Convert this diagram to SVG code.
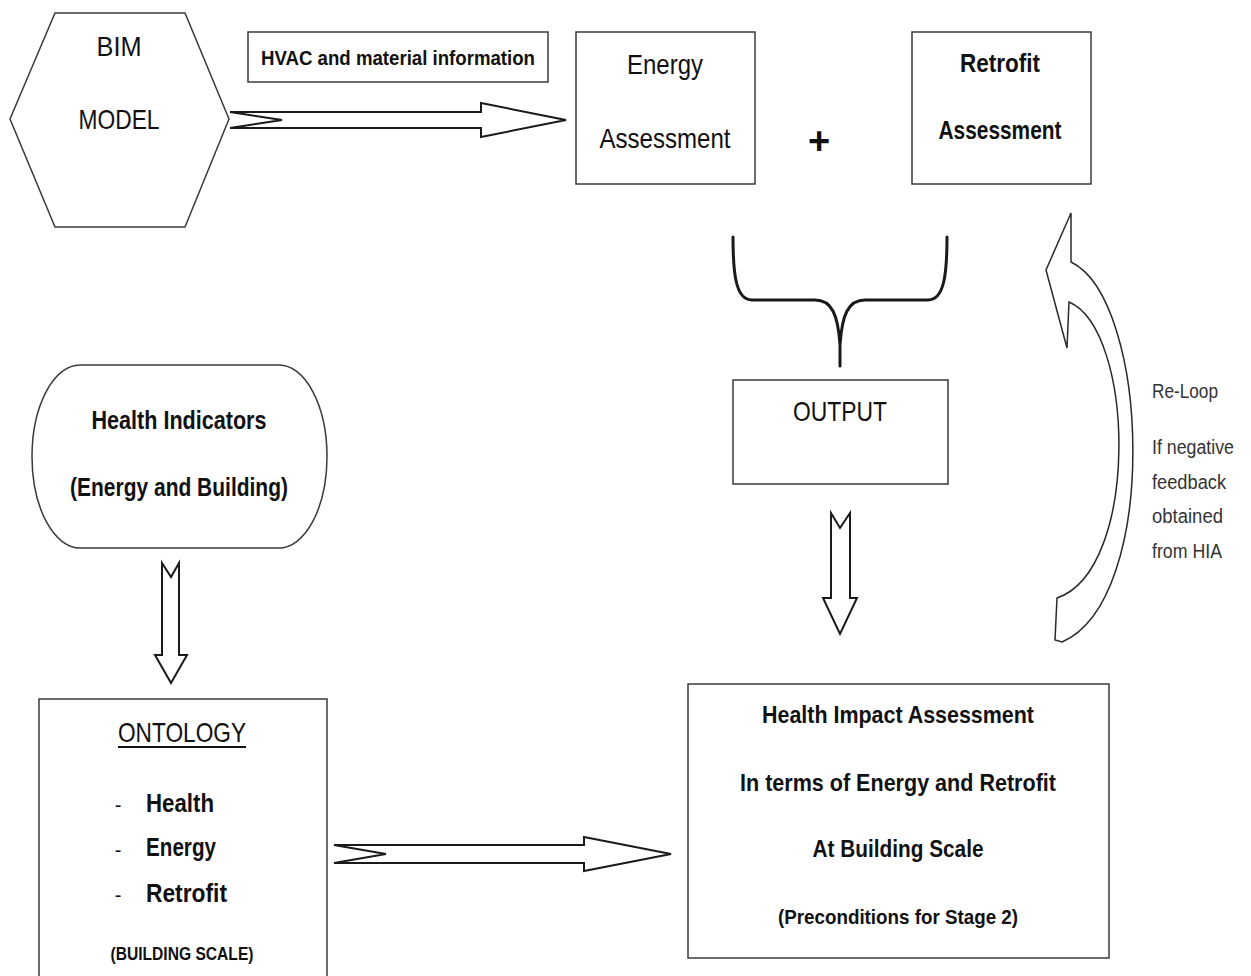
<svg xmlns="http://www.w3.org/2000/svg" width="1251" height="976" viewBox="0 0 1251 976">
  <style>
    .shape { fill: #ffffff; stroke: #3a3a3a; stroke-width: 1.5; }
    .arrow { fill: #ffffff; stroke: #1a1a1a; stroke-width: 2; stroke-linejoin: miter; }
    .brace { fill: none; stroke: #1a1a1a; stroke-width: 3; stroke-linecap: round; }
    text { font-family: "Liberation Sans Narrow", "Liberation Sans", Arial, sans-serif; fill: #111111; text-anchor: middle; }
    .reg { font-weight: normal; }
    .bold { font-weight: bold; }
    .note { font-size: 20px; fill: #333333; text-anchor: start; }
  </style>

  <rect width="1251" height="976" fill="#ffffff"/>

  <!-- connectors -->
  <g id="connectors">
    <!-- BIM model to energy assessment -->
    <path class="arrow" d="M230,112 L481,112 L481,103 L566,120 L481,137 L481,128 L230,128 L282,120 Z"/>
    <!-- brace gathering both assessments -->
    <path class="brace" d="M733,237 C733,275 736,300 752,300 L815,300 C832,300 838,315 840,345 L840,366 M947,237 C947,275 944,300 928,300 L865,300 C848,300 842,315 840,345"/>
    <!-- output to health impact assessment -->
    <path class="arrow" d="M831,513 L840,528 L850,513 L850,598 L857,598 L840,634 L823,598 L831,598 Z"/>
    <!-- health indicators to ontology -->
    <path class="arrow" d="M162,563 L171,577 L179,563 L179,655 L187,655 L171,683 L155,655 L162,655 Z"/>
    <!-- ontology to health impact assessment -->
    <path class="arrow" d="M334,845 L584,845 L584,837 L671,854 L584,871 L584,863 L334,863 L386,854 Z"/>
    <!-- re-loop curved arrow -->
    <path class="shape" style="stroke:#2a2a2a" d="M1071,213 L1071,262 C1150,300 1160,600 1062,642 L1055,640 L1057,598 C1140,570 1135,330 1069,302 L1067,348 L1046,270 Z"/>
  </g>

  <!-- BIM model -->
  <g id="bim-model">
    <polygon class="shape" points="10,119 55,13 185,13 229,119 185,227 55,227"/>
    <text class="reg" x="119" y="56" font-size="28" textLength="45" lengthAdjust="spacingAndGlyphs">BIM</text>
    <text class="reg" x="119" y="129" font-size="28" textLength="81" lengthAdjust="spacingAndGlyphs">MODEL</text>
  </g>

  <!-- HVAC label -->
  <g id="hvac-label">
    <rect class="shape" x="248" y="32" width="300" height="50"/>
    <text class="bold" x="398" y="65" font-size="21" textLength="274" lengthAdjust="spacingAndGlyphs">HVAC and material information</text>
  </g>

  <!-- Energy assessment -->
  <g id="energy-assessment">
    <rect class="shape" x="576" y="32" width="179" height="152"/>
    <text class="reg" x="665" y="74" font-size="28" textLength="76" lengthAdjust="spacingAndGlyphs">Energy</text>
    <text class="reg" x="665" y="148" font-size="28" textLength="131" lengthAdjust="spacingAndGlyphs">Assessment</text>
  </g>

  <!-- plus sign -->
  <g id="plus">
    <text class="bold" x="819" y="154" font-size="38">+</text>
  </g>

  <!-- Retrofit assessment -->
  <g id="retrofit-assessment">
    <rect class="shape" x="912" y="32" width="179" height="152"/>
    <text class="bold" x="1000" y="72" font-size="26" textLength="80" lengthAdjust="spacingAndGlyphs">Retrofit</text>
    <text class="bold" x="1000" y="139" font-size="26" textLength="123" lengthAdjust="spacingAndGlyphs">Assessment</text>
  </g>

  <!-- Output -->
  <g id="output">
    <rect class="shape" x="733" y="380" width="215" height="104"/>
    <text class="reg" x="840" y="421" font-size="28" textLength="94" lengthAdjust="spacingAndGlyphs">OUTPUT</text>
  </g>

  <!-- Re-loop note -->
  <g id="reloop-note">
    <text class="note" x="1152" y="398" textLength="66" lengthAdjust="spacingAndGlyphs">Re-Loop</text>
    <text class="note" x="1152" y="454" textLength="82" lengthAdjust="spacingAndGlyphs">If negative</text>
    <text class="note" x="1152" y="489" textLength="74" lengthAdjust="spacingAndGlyphs">feedback</text>
    <text class="note" x="1152" y="523" textLength="71" lengthAdjust="spacingAndGlyphs">obtained</text>
    <text class="note" x="1152" y="558" textLength="70" lengthAdjust="spacingAndGlyphs">from HIA</text>
  </g>

  <!-- Health indicators -->
  <g id="health-indicators">
    <rect class="shape" x="32" y="365" width="295" height="183" rx="48" ry="91.5"/>
    <text class="bold" x="179" y="429" font-size="26" textLength="175" lengthAdjust="spacingAndGlyphs">Health Indicators</text>
    <text class="bold" x="179" y="496" font-size="26" textLength="218" lengthAdjust="spacingAndGlyphs">(Energy and Building)</text>
  </g>

  <!-- Ontology -->
  <g id="ontology">
    <rect class="shape" x="39" y="699" width="288" height="300"/>
    <text class="reg" x="182" y="742" font-size="28" textLength="128" lengthAdjust="spacingAndGlyphs">ONTOLOGY</text>
    <line x1="118" y1="747" x2="246" y2="747" stroke="#111111" stroke-width="2"/>
    <text class="reg" x="118" y="812" font-size="20">-</text>
    <text class="reg" x="118" y="857" font-size="20">-</text>
    <text class="reg" x="118" y="902" font-size="20">-</text>
    <text class="bold" x="146" y="812" font-size="26" text-anchor="start" style="text-anchor:start" textLength="68" lengthAdjust="spacingAndGlyphs">Health</text>
    <text class="bold" x="146" y="856" font-size="26" text-anchor="start" style="text-anchor:start" textLength="70" lengthAdjust="spacingAndGlyphs">Energy</text>
    <text class="bold" x="146" y="902" font-size="26" text-anchor="start" style="text-anchor:start" textLength="81" lengthAdjust="spacingAndGlyphs">Retrofit</text>
    <text class="bold" x="182" y="960" font-size="18" textLength="143" lengthAdjust="spacingAndGlyphs">(BUILDING SCALE)</text>
  </g>

  <!-- Health impact assessment -->
  <g id="health-impact-assessment">
    <rect class="shape" x="688" y="684" width="421" height="274"/>
    <text class="bold" x="898" y="723" font-size="24" textLength="272" lengthAdjust="spacingAndGlyphs">Health Impact Assessment</text>
    <text class="bold" x="898" y="791" font-size="24" textLength="316" lengthAdjust="spacingAndGlyphs">In terms of Energy and Retrofit</text>
    <text class="bold" x="898" y="857" font-size="24" textLength="171" lengthAdjust="spacingAndGlyphs">At Building Scale</text>
    <text class="bold" x="898" y="924" font-size="21" textLength="240" lengthAdjust="spacingAndGlyphs">(Preconditions for Stage 2)</text>
  </g>
</svg>
